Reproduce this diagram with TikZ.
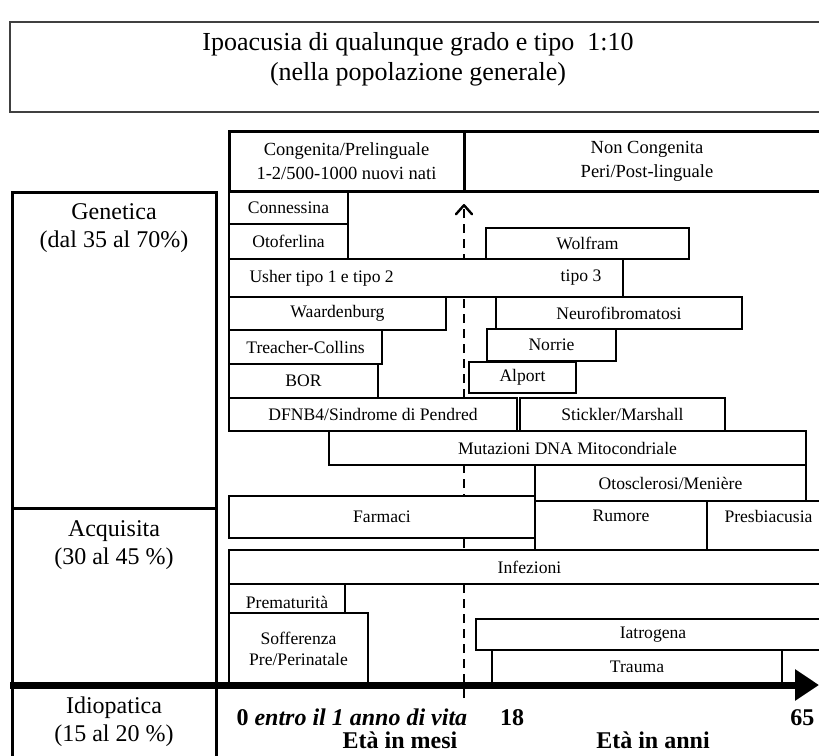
\documentclass[tikz,border=0pt]{standalone}
\usepackage{fontspec}
\setmainfont{Liberation Serif}
\usetikzlibrary{arrows.meta}

% \chartbox[options]{name}{x1}{y1}{x2}{y2}{text}: a box given by its top-left and bottom-right corners
\newcommand\chartbox[7][]{%
  \node[rowbox,anchor=north west,
        minimum width={#5pt-#3pt},minimum height={#6pt-#4pt},#1] (#2) at (#3,#4) {#7};}

\begin{document}
\begin{tikzpicture}[x=1pt,y=-1pt,
  rowbox/.style={draw=black,fill=white,line width=2.4pt,inner sep=0pt,outer sep=0pt,
                 align=center,font=\fontsize{17.6}{21}\selectfont},
  hdrbox/.style={line width=3pt,font=\fontsize{18.5}{24}\selectfont},
  sidebox/.style={line width=3pt},
  titlebox/.style={line width=1.3pt,draw=black!75},
  sidelabel/.style={align=center,font=\fontsize{24}{28}\selectfont},
  axislabel/.style={font=\fontsize{24}{28}\selectfont\bfseries},
  ageline/.style={line width=2.4pt,dash pattern=on 9pt off 6pt,
                  -{Straight Barb[length=9pt,width=16pt,round]}},
  axisline/.style={line width=7pt,-{Triangle[length=24pt,width=30pt]}}]

\path[use as bounding box] (0,0) rectangle (819,755);
\clip (0,0) rectangle (819,755);

% title
\chartbox[titlebox]{title}{10}{22}{830}{112}{}
\node[align=center,font=\fontsize{26}{30}\selectfont] (titletext) at (418,59)
  {Ipoacusia di qualunque grado e tipo~~1:10\\(nella popolazione generale)};

% one-year mark, drawn first so the boxes cover it
\coordinate (agebottom) at (464,698);
\coordinate (agetop) at (464,204);
\draw[ageline] (agebottom) -- (agetop);

% column headers
\chartbox[hdrbox]{cong}{229}{131}{464}{191}{Congenita/Prelinguale\\1-2/500-1000 nuovi nati}
\chartbox[hdrbox]{noncong}{464}{131}{830}{191}{Non Congenita\\Peri/Post-linguale}

% side categories
\chartbox[sidebox]{genetica}{12}{192}{216}{508}{}
\chartbox[sidebox]{acquisita}{12}{508}{216}{683}{}
\chartbox[sidebox]{idiopatica}{12}{683}{216}{775}{}
\node[sidelabel] (genlabel) at (114,228) {Genetica\\(dal 35 al 70\%)};
\node[sidelabel] (acqlabel) at (114,545) {Acquisita\\(30 al 45 \%)};
\node[sidelabel] (idiolabel) at (114,722) {Idiopatica\\(15 al 20 \%)};

% genetic causes
\chartbox{connessina}{229}{192}{348}{224}{Connessina}
\chartbox{otoferlina}{229}{224}{348}{259}{Otoferlina}
\chartbox{wolfram}{486}{228}{689}{259}{Wolfram}
\chartbox{usher}{229}{259}{623}{297}{}
\node[font=\fontsize{17.6}{21}\selectfont,anchor=west] (usherearly) at (246,278) {Usher tipo 1 e tipo 2};
\node[font=\fontsize{17.6}{21}\selectfont] (usherlate) at (581,278) {tipo 3};
\chartbox{waardenburg}{229}{297}{446}{330}{Waardenburg}
\chartbox{neurofib}{496}{297}{742}{329}{Neurofibromatosi}
\chartbox{treacher}{229}{330}{382}{364}{Treacher-Collins}
\chartbox{norrie}{487}{329}{616}{361}{Norrie}
\chartbox{bor}{229}{364}{378}{398}{BOR}
\chartbox{alport}{469}{362}{576}{393}{Alport}
\chartbox{dfnb}{229}{398}{517}{431}{DFNB4/Sindrome di Pendred}
\chartbox{stickler}{520}{398}{725}{431}{Stickler/Marshall}
\chartbox{mito}{329}{431}{806}{465}{Mutazioni DNA Mitocondriale}
\chartbox{otoscl}{535}{465}{806}{501}{Otosclerosi/Menière}

% acquired causes
\chartbox{farmaci}{229}{496}{535}{538}{Farmaci}
\chartbox[text depth=19pt]{rumore}{535}{501}{707}{550}{Rumore}
\chartbox[text depth=19pt]{presbi}{707}{501}{830}{550}{Presbiacusia}
\chartbox{infezioni}{229}{550}{830}{584}{Infezioni}
\chartbox[text height=19pt]{prematur}{229}{584}{345}{614}{Prematurità}
\chartbox{sofferenza}{229}{613}{368}{684}{Sofferenza\\Pre/Perinatale}
\chartbox{iatrogena}{476}{619}{830}{650}{Iatrogena}
\chartbox{trauma}{492}{650}{782}{684}{Trauma}

% age axis
\coordinate (axisstart) at (10,685);
\coordinate (axisend) at (819,685);
\draw[axisline] (axisstart) -- (axisend);

\node[axislabel,anchor=base west] (zero) at (233,725) {0 \itshape entro il 1 anno di vita};
\node[axislabel,anchor=base] (eighteen) at (512,725) {18};
\node[axislabel,anchor=base east] (sixtyfive) at (818,725) {65};
\node[axislabel,anchor=base] (mesi) at (400,748) {Età in mesi};
\node[axislabel,anchor=base] (anni) at (653,748) {Età in anni};
\end{tikzpicture}
\end{document}
